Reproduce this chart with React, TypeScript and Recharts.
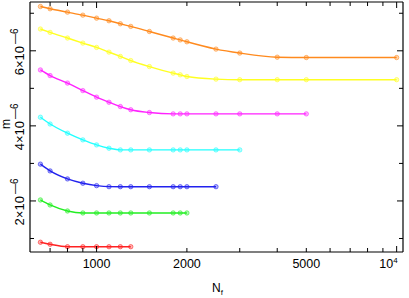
import { LineChart, Line, XAxis, YAxis, Label } from 'recharts';

// N_f values where the curves were sampled (shorter curves stop earlier)
const nf = [650, 700, 800, 900, 1000, 1100, 1200, 1300, 1500, 1800, 1900, 2000, 2500, 3000, 4000, 5000, 10000];

// m, in units of 10^-6
const mOrange = [7.18, 7.12, 7.03, 6.95, 6.87, 6.8, 6.72, 6.65, 6.515, 6.34, 6.29, 6.24, 6.045, 5.94, 5.83, 5.82, 5.82];
const mYellow = [6.58, 6.49, 6.34, 6.205, 6.09, 5.965, 5.85, 5.74, 5.58, 5.405, 5.36, 5.315, 5.245, 5.23, 5.23, 5.23, 5.23];
const mMagenta = [5.49, 5.34, 5.14, 4.94, 4.765, 4.63, 4.515, 4.43, 4.355, 4.32, 4.32, 4.32, 4.32, 4.32, 4.32, 4.32];
const mCyan = [4.23, 4.05, 3.805, 3.627, 3.493, 3.405, 3.36, 3.36, 3.36, 3.36, 3.36, 3.36, 3.36, 3.36];
const mBlue = [2.98, 2.8, 2.587, 2.472, 2.408, 2.381, 2.38, 2.38, 2.38, 2.38, 2.38, 2.38, 2.38];
const mGreen = [2.027, 1.893, 1.733, 1.68, 1.68, 1.68, 1.68, 1.68, 1.68, 1.68, 1.68, 1.68];
const mRed = [0.9, 0.845, 0.781, 0.781, 0.781, 0.781, 0.781, 0.781];

const xTicks = [700, 800, 900, 1000, 2000, 3000, 4000, 5000, 6000, 7000, 8000, 9000, 10000];
const xLabeled = [1000, 2000, 5000];
const xMajor = [1000, 10000];
const yTicks = [1, 2, 3, 4, 5, 6, 7];
const yLabeled = [2, 4, 6];

const FONT = '"Liberation Sans", Arial, sans-serif';

const series = [
  { name: 'orange', color: '#ff8a1e', m: mOrange },
  { name: 'yellow', color: '#ffff22', m: mYellow },
  { name: 'magenta', color: '#ff22ff', m: mMagenta },
  { name: 'cyan', color: '#22ffff', m: mCyan },
  { name: 'blue', color: '#2222ee', m: mBlue },
  { name: 'green', color: '#22ee22', m: mGreen },
  { name: 'red', color: '#ff2222', m: mRed },
];

const toRows = (m: number[]) => m.map((v, i) => ({ nf: nf[i], m: v }));

const BottomTick = (props: any) => {
  const { x, y, payload } = props;
  const v = payload.value;
  const len = xMajor.includes(v) ? 6 : 4;
  let label = null;
  if (xLabeled.includes(v)) {
    label = (
      <text x={x} y={y + 16} textAnchor="middle" fontSize={12.5} fontFamily={FONT} fill="#000">
        {v}
      </text>
    );
  } else if (v === 10000) {
    label = (
      <text x={x + 1} y={y + 16} textAnchor="end" fontSize={12.5} fontFamily={FONT} fill="#000">
        10<tspan dy={-5} fontSize={8}>4</tspan>
      </text>
    );
  }
  return (
    <g>
      <line x1={x} y1={y} x2={x} y2={y - len} stroke="#000" strokeWidth={1} />
      {label}
    </g>
  );
};

const TopTick = (props: any) => {
  const { x, y, payload } = props;
  const len = xMajor.includes(payload.value) ? 6 : 4;
  return <line x1={x} y1={y} x2={x} y2={y + len} stroke="#000" strokeWidth={1} />;
};

const LeftTick = (props: any) => {
  const { x, y, payload } = props;
  const v = payload.value;
  const major = yLabeled.includes(v);
  const tx = x - 6;
  const ty = y + 1;
  return (
    <g>
      <line x1={x} y1={y} x2={x + (major ? 6 : 4)} y2={y} stroke="#000" strokeWidth={1} />
      {major && (
        <text
          x={tx}
          y={ty}
          transform={`rotate(-90, ${tx}, ${ty})`}
          textAnchor="middle"
          fontSize={13}
          fontFamily={FONT}
          fill="#000"
        >
          {v}×10<tspan dx={2} dy={-6} fontSize={10}>—6</tspan>
        </text>
      )}
    </g>
  );
};

const RightTick = (props: any) => {
  const { x, y, payload } = props;
  const len = yLabeled.includes(payload.value) ? 6 : 4;
  return <line x1={x} y1={y} x2={x - len} y2={y} stroke="#000" strokeWidth={1} />;
};

const XTitle = (props: any) => {
  const { x, y, width } = props.viewBox;
  return (
    <text x={x + width / 2 + 1} y={y + 40} textAnchor="middle" fontSize={12} fontFamily={FONT} fill="#000">
      N<tspan dy={3} fontSize={8}>f</tspan>
    </text>
  );
};

const YTitle = (props: any) => {
  const { x, y, height } = props.viewBox;
  const cx = x + 10;
  const cy = y + height / 2 - 3;
  return (
    <text x={cx} y={cy} transform={`rotate(-90, ${cx}, ${cy})`} textAnchor="middle" fontSize={12} fontFamily={FONT} fill="#000">
      m
    </text>
  );
};

const axisLine = { stroke: '#000', strokeWidth: 1.2 };

export default function App() {
  return (
    <div style={{ position: 'absolute', left: 0, top: 0 }}>
      <LineChart width={409} height={298} margin={{ top: 0, right: 0, bottom: 16, left: 0 }}>
        <XAxis
          dataKey="nf"
          type="number"
          scale="log"
          domain={[600, 10500]}
          allowDataOverflow
          ticks={xTicks}
          interval={0}
          tickSize={0}
          tickMargin={0}
          tick={<BottomTick />}
          axisLine={axisLine}
          height={30}
        >
          <Label content={<XTitle />} />
        </XAxis>
        <XAxis
          xAxisId="top"
          orientation="top"
          dataKey="nf"
          type="number"
          scale="log"
          domain={[600, 10500]}
          allowDataOverflow
          ticks={xTicks}
          interval={0}
          tickSize={0}
          tickMargin={0}
          tick={<TopTick />}
          axisLine={axisLine}
          height={2}
        />
        <YAxis
          type="number"
          domain={[0.64, 7.3]}
          allowDataOverflow
          ticks={yTicks}
          interval={0}
          tickSize={0}
          tickMargin={0}
          tick={<LeftTick />}
          axisLine={axisLine}
          width={30}
        >
          <Label content={<YTitle />} />
        </YAxis>
        <YAxis
          yAxisId="right"
          orientation="right"
          type="number"
          domain={[0.64, 7.3]}
          allowDataOverflow
          ticks={yTicks}
          interval={0}
          tickSize={0}
          tickMargin={0}
          tick={<RightTick />}
          axisLine={axisLine}
          width={6}
        />
        {series.map((s) => (
          <Line
            key={s.name}
            data={toRows(s.m)}
            dataKey="m"
            type="monotone"
            stroke={s.color}
            strokeWidth={1.4}
            dot={{ r: 2.2, stroke: s.color, strokeWidth: 0.8, strokeOpacity: 0.7, fill: s.color, fillOpacity: 0.35 }}
            isAnimationActive={false}
          />
        ))}
      </LineChart>
    </div>
  );
}
